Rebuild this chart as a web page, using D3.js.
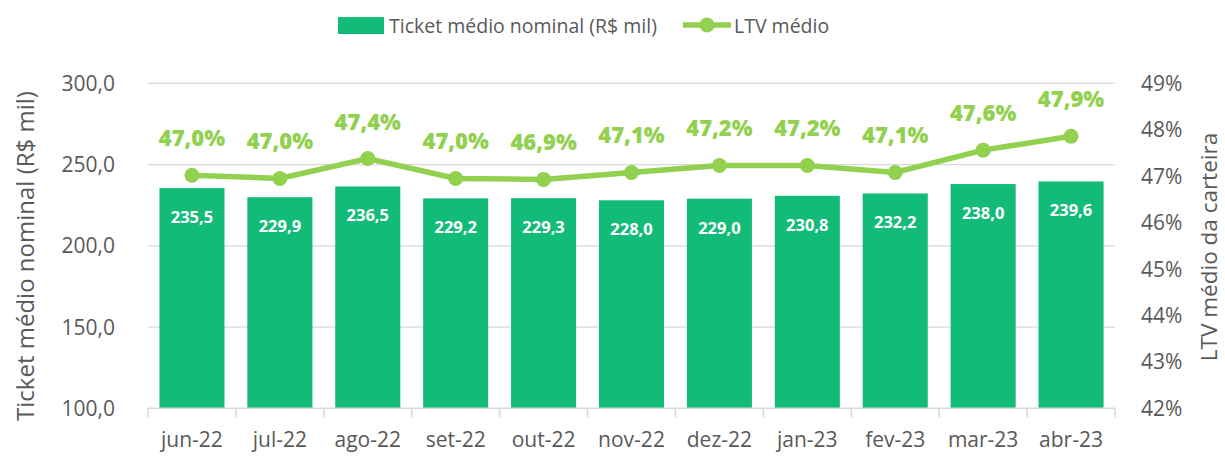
<!DOCTYPE html>
<html><head><meta charset="utf-8">
<script src="https://cdn.jsdelivr.net/npm/d3@7"></script>
<style>body{margin:0;background:#fff}svg{display:block}text{font-family:"Open Sans","Noto Sans",sans-serif}</style>
</head><body><svg id="c" width="1225" height="461"></svg>
<script>
const categories=["jun-22","jul-22","ago-22","set-22","out-22","nov-22","dez-22","jan-23","fev-23","mar-23","abr-23"];
const ticket=[235.5,229.9,236.5,229.2,229.3,228.0,229.0,230.8,232.2,238.0,239.6];
const ltv=[47.02,46.95,47.38,46.95,46.93,47.08,47.23,47.23,47.08,47.56,47.86];
const ltvLabels=["47,0%","47,0%","47,4%","47,0%","46,9%","47,1%","47,2%","47,2%","47,1%","47,6%","47,9%"];
const leftTicks=[100,150,200,250,300];
const rightTicks=[42,43,44,45,46,47,48,49];

const barColor="#13bb79", lineColor="#92d050", txt="#595959", grid="#d9d9d9";
const svg=d3.select("#c");
const L=148,R=1115,T=83.3,B=408.3;
const x=d3.scaleBand().domain(categories).range([L,R]).paddingInner(0.26).paddingOuter(0.13);
const y=d3.scaleLinear().domain([100,300]).range([B,T]);
const y2=d3.scaleLinear().domain([42,49]).range([B,T]);
const fmt=v=>d3.format(".1f")(v).replace(".",",");

// gridlines
svg.append("g").selectAll("line").data(leftTicks.slice(1)).join("line")
 .attr("x1",L).attr("x2",R).attr("y1",d=>y(d)).attr("y2",d=>y(d))
 .attr("stroke",grid).attr("stroke-width",1.3);

// bars
svg.append("g").selectAll("rect").data(ticket).join("rect")
 .attr("x",(d,i)=>x(categories[i])).attr("width",x.bandwidth())
 .attr("y",d=>y(d)).attr("height",d=>B-y(d)).attr("fill",barColor);
svg.append("g").selectAll("text").data(ticket).join("text")
 .attr("x",(d,i)=>x(categories[i])+x.bandwidth()/2).attr("y",d=>y(d)+35)
 .attr("text-anchor","middle").attr("fill","#fff").attr("font-weight","bold").attr("font-size",16.5)
 .text(d=>fmt(d));

// x axis baseline and ticks
svg.append("line").attr("x1",L).attr("x2",R).attr("y1",B).attr("y2",B).attr("stroke",grid).attr("stroke-width",1.5);
const bounds=d3.range(categories.length+1).map(i=>L+i*(R-L)/categories.length);
svg.append("g").selectAll("line").data(bounds).join("line")
 .attr("x1",d=>d).attr("x2",d=>d).attr("y1",B).attr("y2",B+9).attr("stroke",grid).attr("stroke-width",1.5);
svg.append("g").selectAll("text").data(categories).join("text")
 .attr("x",d=>x(d)+x.bandwidth()/2).attr("y",447).attr("text-anchor","middle")
 .attr("fill",txt).attr("font-size",21).text(d=>d);

// left axis labels
svg.append("g").selectAll("text").data(leftTicks).join("text")
 .attr("x",115).attr("y",d=>y(d)+7.5).attr("text-anchor","end").attr("fill",txt).attr("font-size",21)
 .text(d=>fmt(d));
// right axis labels
svg.append("g").selectAll("text").data(rightTicks).join("text")
 .attr("x",1141).attr("y",d=>y2(d)+7.5).attr("text-anchor","start").attr("fill",txt).attr("font-size",21)
 .text(d=>d+"%");

// axis titles
svg.append("text").attr("transform","translate(34,256) rotate(-90)").attr("text-anchor","middle")
 .attr("fill",txt).attr("font-size",24).text("Ticket médio nominal (R$ mil)");
svg.append("text").attr("transform","translate(1217,247) rotate(-90)").attr("text-anchor","middle")
 .attr("fill",txt).attr("font-size",22.5).text("LTV médio da carteira");

// line
const cx=i=>x(categories[i])+x.bandwidth()/2;
svg.append("path").datum(ltv).attr("fill","none").attr("stroke",lineColor).attr("stroke-width",5.5)
 .attr("d",d3.line().x((d,i)=>cx(i)).y(d=>y2(d)));
svg.append("g").selectAll("circle").data(ltv).join("circle")
 .attr("cx",(d,i)=>cx(i)).attr("cy",d=>y2(d)).attr("r",7.5).attr("fill",lineColor);
svg.append("g").selectAll("text").data(ltv).join("text")
 .attr("x",(d,i)=>cx(i)).attr("y",d=>y2(d)-29).attr("text-anchor","middle")
 .attr("fill",lineColor).attr("font-weight","800").attr("font-size",22).text((d,i)=>ltvLabels[i]);

// legend
const lg=svg.append("g");
lg.append("rect").attr("x",338).attr("y",17).attr("width",46).attr("height",17).attr("fill",barColor);
lg.append("text").attr("x",389).attr("y",33).attr("fill",txt).attr("font-size",19.5).text("Ticket médio nominal (R$ mil)");
lg.append("line").attr("x1",683).attr("x2",731).attr("y1",25).attr("y2",25).attr("stroke",lineColor).attr("stroke-width",5.5);
lg.append("circle").attr("cx",707).attr("cy",25).attr("r",7.5).attr("fill",lineColor);
lg.append("text").attr("x",734).attr("y",33).attr("fill",txt).attr("font-size",19.5).text("LTV médio");
</script></body></html>
